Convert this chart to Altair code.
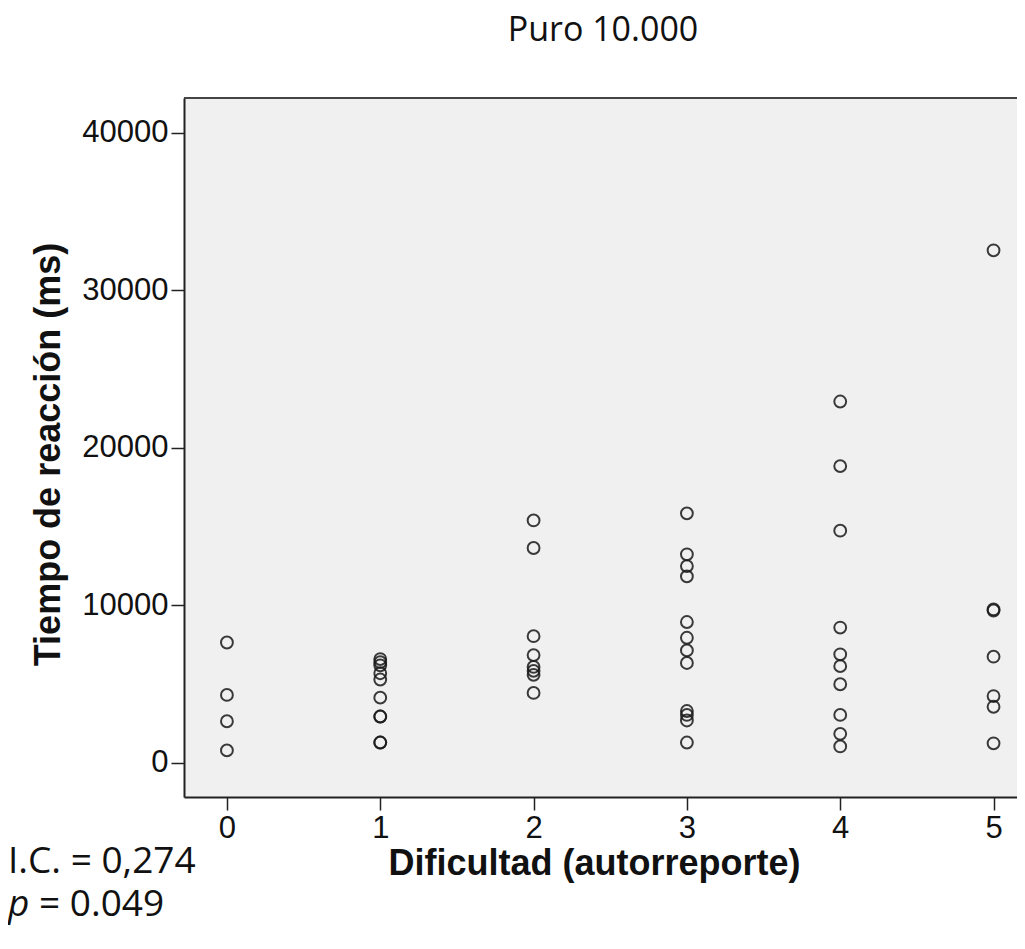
import altair as alt
import pandas as pd

# ---- data ----
difficulty_levels = [0, 1, 2, 3, 4, 5]
rt_level_0 = [7650, 4320, 2650, 800]
rt_level_1 = [6600, 6400, 6200, 5700, 5300, 4150, 2950, 2950, 1300, 1300]
rt_level_2 = [15400, 13650, 8050, 6850, 6100, 5850, 5600, 4450]
rt_level_3 = [15850, 13250, 12500, 11850, 8950, 7950, 7150, 6350, 3300, 3050, 2700, 1300]
rt_level_4 = [22950, 18850, 14750, 8600, 6900, 6150, 5000, 3050, 1850, 1050]
rt_level_5 = [32550, 9750, 9680, 6750, 4250, 3570, 1250]

y_ticks = [0, 10000, 20000, 30000, 40000]
chart_title = ["Puro 10.000"]
x_title = "Dificultad (autorreporte)"
y_title = "Tiempo de reacción (ms)"
ann_ic = ["I.C. = 0,274"]
ann_p_letter = ["p"]
ann_p_value = ["= 0.049"]

rows = []
for lvl, vals in zip(difficulty_levels,
                     [rt_level_0, rt_level_1, rt_level_2, rt_level_3, rt_level_4, rt_level_5]):
    for v in vals:
        rows.append({"dificultad": lvl, "tiempo": v})
df = pd.DataFrame(rows)

PLOT_W = 833
PLOT_H = 699
AXIS_FONT = "Liberation Sans"
TEXT_FONT = "Open Sans"

x_enc = alt.X(
    "dificultad:Q",
    scale=alt.Scale(domain=[-0.28, 5.153], nice=False, zero=False),
    axis=alt.Axis(
        values=difficulty_levels, format="d", title=x_title,
        titleX=410, titleY=66, titleAlign="center", titleBaseline="middle",
        titleAnchor="start",
    ),
)
y_enc = alt.Y(
    "tiempo:Q",
    scale=alt.Scale(domain=[-2159, 42222], nice=False, zero=False),
    axis=alt.Axis(
        values=y_ticks, format="d", title=y_title,
        titleX=-136, titleY=356, titleAngle=270, titleAlign="center",
        titleBaseline="middle", titleAnchor="start",
    ),
)

points = alt.Chart(df).mark_point(
    shape="circle", filled=False, size=140, strokeWidth=2,
    color="#1a1a1a", opacity=0.85, clip=True,
).encode(x=x_enc, y=y_enc)

frame_src = pd.DataFrame({"k": [0]})
top_rule = alt.Chart(frame_src).mark_rule(color="#444444", strokeWidth=2).encode(
    x=alt.value(0), x2=alt.value(PLOT_W), y=alt.value(0)
)

title_text = alt.Chart(pd.DataFrame({"t": chart_title})).mark_text(
    font=TEXT_FONT, fontSize=34, align="center", baseline="alphabetic", color="#111111"
).encode(text="t:N", x=alt.value(419), y=alt.value(-57))

ic_text = alt.Chart(pd.DataFrame({"t": ann_ic})).mark_text(
    font=TEXT_FONT, fontSize=37, align="left", baseline="middle", color="#111111"
).encode(text="t:N", x=alt.value(-176), y=alt.value(764))

p_letter = alt.Chart(pd.DataFrame({"t": ann_p_letter})).mark_text(
    font=TEXT_FONT, fontSize=37, fontStyle="italic", align="left", baseline="middle", color="#111111"
).encode(text="t:N", x=alt.value(-176), y=alt.value(807))

p_value = alt.Chart(pd.DataFrame({"t": ann_p_value})).mark_text(
    font=TEXT_FONT, fontSize=37, align="left", baseline="middle", color="#111111"
).encode(text="t:N", x=alt.value(-145), y=alt.value(807))

chart = alt.layer(points, top_rule, title_text, ic_text, p_letter, p_value).properties(
    width=PLOT_W,
    height=PLOT_H,
    autosize=alt.AutoSizeParams(type="none"),
    padding={"left": 176, "top": 90, "right": 0, "bottom": 140},
).configure(
    background="white"
).configure_view(
    fill="#f0f0f0", stroke=None
).configure_axis(
    grid=False,
    domainColor="#222222", domainWidth=2,
    tickColor="#222222", tickWidth=1.5, tickSize=13,
    labelFont=AXIS_FONT, labelFontSize=31, labelColor="#111111", labelPadding=3,
    titleFont=AXIS_FONT, titleFontSize=36, titleFontWeight="bold", titleColor="#111111",
)

chart.save("out.html", embed_options={"renderer": "svg", "actions": False})
